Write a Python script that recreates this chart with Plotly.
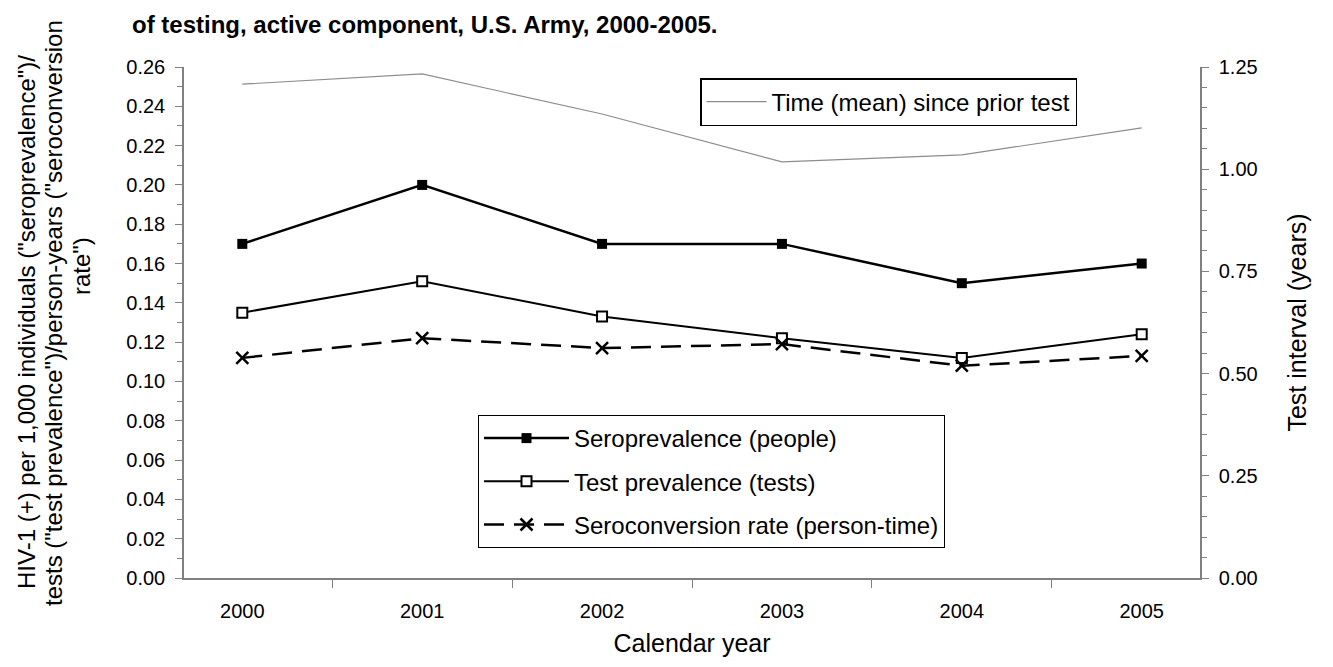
import plotly.graph_objects as go

years = ["2000", "2001", "2002", "2003", "2004", "2005"]
seroprevalence = [0.170, 0.200, 0.170, 0.170, 0.150, 0.160]
test_prevalence = [0.135, 0.151, 0.133, 0.122, 0.112, 0.124]
seroconversion = [0.112, 0.122, 0.117, 0.119, 0.108, 0.113]
time_since_prior = [1.208, 1.233, 1.135, 1.018, 1.035, 1.101]

FONT = "Liberation Sans, Arial, sans-serif"

# page offset of the figure inside the browser page (default body margin)
OFF = 8
PL, PR, PT, PB = 184, 1200, 67, 578  # plot area in page pixels
W, H = 1333 - OFF, 667 - OFF

fig = go.Figure()
fig.add_trace(go.Scatter(
    x=years, y=seroprevalence, name="Seroprevalence (people)",
    mode="lines+markers", line=dict(color="black", width=2.5),
    marker=dict(symbol="square", size=10, color="black"),
    legendgroup="a", legend="legend"))
fig.add_trace(go.Scatter(
    x=years, y=test_prevalence, name="Test prevalence (tests)",
    mode="lines+markers", line=dict(color="black", width=2),
    marker=dict(symbol="square", size=10, color="white", line=dict(color="black", width=2)),
    legendgroup="b", legend="legend"))
fig.add_trace(go.Scatter(
    x=years, y=seroconversion, name="Seroconversion rate (person-time)",
    mode="lines+markers", line=dict(color="black", width=2.5, dash="20px,10px"),
    marker=dict(symbol="x-thin", size=12, color="black", line=dict(color="black", width=2.5)),
    legendgroup="c", legend="legend"))
fig.add_trace(go.Scatter(
    x=years, y=time_since_prior, name="Time (mean) since prior test",
    mode="lines", line=dict(color="#8c8c8c", width=1.2),
    yaxis="y2", legend="legend2"))

axis_common = dict(showgrid=False, zeroline=False, linecolor="#808080", linewidth=1.5,
                   ticks="outside", tickcolor="#808080", tickfont=dict(family=FONT, size=20, color="black"))

pw, ph = PR - PL, PB - PT

fig.update_layout(
    width=W, height=H,
    margin=dict(l=PL - OFF, r=W - (PR - OFF), t=PT - OFF, b=H - (PB - OFF)),
    paper_bgcolor="white", plot_bgcolor="white",
    font=dict(family=FONT, color="black"),
    xaxis=dict(type="category", tickson="boundaries", ticklen=8, showline=True,
               ticklabelstandoff=14,
               title=dict(text="Calendar year", font=dict(family=FONT, size=25), standoff=14),
               **axis_common),
    yaxis=dict(range=[0, 0.26], dtick=0.02, tickformat=".2f", ticklen=7, showline=True,
               minor=dict(dtick=0.01, ticks="outside", ticklen=5, tickcolor="#808080"),
               ticklabelstandoff=6,
               **axis_common),
    yaxis2=dict(range=[0, 1.25], dtick=0.25, tickformat=".2f", ticklen=7, showline=True,
                overlaying="y", side="right",
                minor=dict(dtick=0.05, ticks="outside", ticklen=5, tickcolor="#808080"),
                ticklabelstandoff=6,
                title=dict(text="Test interval (years)", font=dict(family=FONT, size=25), standoff=32),
                **axis_common),
    legend=dict(x=(478 - PL) / pw, y=1 - (415 - PT) / ph, xanchor="left", yanchor="top",
                bordercolor="black", borderwidth=1, bgcolor="white",
                font=dict(family=FONT, size=24), itemwidth=85, tracegroupgap=9,
                traceorder="grouped"),
    legend2=dict(x=(700 - PL) / pw, y=1 - (78 - PT) / ph, xanchor="left", yanchor="top",
                 bordercolor="black", borderwidth=1.5, bgcolor="white",
                 font=dict(family=FONT, size=24), itemwidth=60),
    showlegend=True,
)

# Left axis title: three lines placed individually
left_lines = [
    ('HIV-1 (+) per 1,000 individuals ("seroprevalence")/', 26, 322),
    ('tests ("test prevalence")/person-years ("seroconversion', 53, 313),
    ('rate")', 81, 266),
]
for text, px, py in left_lines:
    fig.add_annotation(text=text, xref="paper", yref="paper",
                       x=(px - PL) / pw, y=1 - (py - PT) / ph,
                       xanchor="center", yanchor="middle", textangle=-90,
                       showarrow=False, font=dict(family=FONT, size=24, color="black"))

# Title
fig.add_annotation(text="<b>of testing, active component, U.S. Army, 2000-2005.</b>",
                   xref="paper", yref="paper", x=(130 - PL) / pw, y=1 + (PT - 9) / ph,
                   xanchor="left", yanchor="top", showarrow=False,
                   font=dict(family=FONT, size=24, color="black"))

fig.write_html("out.html")
